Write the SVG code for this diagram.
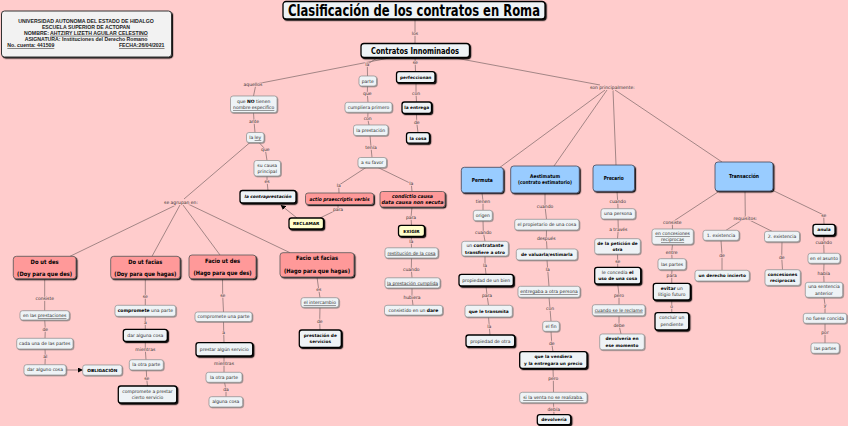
<svg xmlns="http://www.w3.org/2000/svg" width="848" height="426" viewBox="0 0 848 426">
<defs>
<filter id="ds" x="-20%" y="-40%" width="150%" height="200%"><feDropShadow dx="1.2" dy="1.2" stdDeviation="0" flood-color="#000" flood-opacity="0.9"/></filter>
<filter id="dsl" x="-20%" y="-40%" width="150%" height="200%"><feDropShadow dx="0.8" dy="0.8" stdDeviation="0" flood-color="#6e6e6e" flood-opacity="0.8"/></filter>
<marker id="ar" markerUnits="userSpaceOnUse" markerWidth="5" markerHeight="5" refX="4.5" refY="2.5" orient="auto"><path d="M0,0 L5,2.5 L0,5 z" fill="#000"/></marker>
<style>
.c{fill:none;stroke:#8b7373;stroke-width:.8}
.r{fill:#EEF3F6;stroke:#8e8e8e;stroke-width:.7;filter:url(#dsl)}
.k{fill:#EEF3F6;stroke:#000;stroke-width:1.3;filter:url(#ds)}
.p{fill:#FF9999;stroke:#555;stroke-width:.8;filter:url(#ds)}
.bl{fill:#99CCFF;stroke:#445;stroke-width:.8;filter:url(#ds)}
.y{fill:#FFFFCC;stroke:#000;stroke-width:1.3;filter:url(#ds)}
.hdr{fill:#F2F2F2;stroke:#333;stroke-width:1;filter:url(#ds)}
text{font-family:"DejaVu Sans",Verdana,sans-serif;text-anchor:middle}
.t{font-size:4.5px;fill:#2a2a2a}
.tb{font-size:4.3px;font-weight:bold;fill:#000}
.b{font-weight:bold;fill:#000}
.i{font-style:italic}
.h{font-size:6px;font-weight:bold;fill:#000}
.l{font-size:4.5px;fill:#333;paint-order:stroke;stroke:#FFCCCC;stroke-width:1.6px;stroke-linejoin:round}
.u{text-decoration:underline}
.hd{font-family:"Liberation Sans",Arial,sans-serif;font-size:5.2px;font-weight:bold;fill:#222}
</style>
</defs>
<rect width="848" height="426" fill="#FFCCCC"/>

<g id="connectors">
<polyline class="c" points="415,19 415,43.5"/>
<polyline class="c" points="389,58 256,84 253.5,96"/>
<polyline class="c" points="377,58 367.3,64.3 367.5,76"/>
<polyline class="c" points="415,57.5 415.5,71.7"/>
<polyline class="c" points="457,58.3 600,85"/>
<polyline class="c" points="253.5,112.5 254,121 255,132.5"/>
<polyline class="c" points="259,142.5 265.3,149.3 267,160.5"/>
<polyline class="c" points="267,176 267,181 268,190.5"/>
<polyline class="c" points="250,142.5 184,199"/>
<polyline class="c" points="176,205 70,256.3"/>
<polyline class="c" points="180,205 152,256.3"/>
<polyline class="c" points="183,205 220,255"/>
<polyline class="c" points="188,204 290,252.7"/>
<polyline class="c" points="367.5,86 367.3,93.7 368,102.3"/>
<polyline class="c" points="368,112.3 367.7,118.7 369,125"/>
<polyline class="c" points="370,135.5 371,147 372,157.5"/>
<polyline class="c" points="366,167.5 338.7,185.3 339,193"/>
<polyline class="c" points="378,167.5 411.3,183.7 412,191.5"/>
<polyline class="c" points="338,204.5 338,209.3 320,218"/>
<polyline class="c" points="297,218 281,205.2" marker-end="url(#ar)"/>
<polyline class="c" points="412,207 411,217 411.5,225.3"/>
<polyline class="c" points="411.5,236.3 411.3,241.3 411.5,248"/>
<polyline class="c" points="411.5,258 411.3,269.3 412,277.8"/>
<polyline class="c" points="412,288 412,297.3 413,305.3"/>
<polyline class="c" points="416,82.7 416,93 416.5,102"/>
<polyline class="c" points="416.5,113.3 416.7,122 418,132.7"/>
<polyline class="c" points="44.7,278.7 44.7,298.7 44.7,310.7"/>
<polyline class="c" points="44.7,320 45.3,329 45,338.3"/>
<polyline class="c" points="45,349 45.3,356.3 45,364.7"/>
<polyline class="c" points="66,370 82.5,370" marker-end="url(#ar)"/>
<polyline class="c" points="145.3,278.7 145.3,296.7 145.3,305.3"/>
<polyline class="c" points="145.3,316.3 145.3,322.7 145.3,329.3"/>
<polyline class="c" points="145.3,341.3 145.3,349.7 146,359.7"/>
<polyline class="c" points="146.3,370 146.7,378.7 147.5,386"/>
<polyline class="c" points="222.5,278.7 222.7,295 223.5,312"/>
<polyline class="c" points="223.5,321.5 223.7,332.3 224,342.7"/>
<polyline class="c" points="224,356 224,363.3 224,372.3"/>
<polyline class="c" points="224.5,382.3 226,389.7 226,396.7"/>
<polyline class="c" points="317,277 318.7,289.3 320,297.7"/>
<polyline class="c" points="320,307.3 319.7,321 320,330"/>
<polyline class="c" points="605,90 500,167.3"/>
<polyline class="c" points="607,90 554,166"/>
<polyline class="c" points="613,90 616,165"/>
<polyline class="c" points="615,90 722,162"/>
<polyline class="c" points="482,192.7 483,201 483,210.3"/>
<polyline class="c" points="483,220.7 483.3,232 485,241.3"/>
<polyline class="c" points="485,256 485,265 486,274.3"/>
<polyline class="c" points="486,286 487,295 488.5,305.3"/>
<polyline class="c" points="488.5,317 489.3,326.3 490,335"/>
<polyline class="c" points="545,193 545,206.3 546.5,219.3"/>
<polyline class="c" points="546.5,230 546.3,238 547,249"/>
<polyline class="c" points="547,260 547.7,269.7 549,286.3"/>
<polyline class="c" points="549,297.3 550,308.7 551,321.3"/>
<polyline class="c" points="551,331.3 551.7,343 553,351.7"/>
<polyline class="c" points="553,368.3 553.3,378 553.5,392.3"/>
<polyline class="c" points="553.5,402.7 553.7,409.3 554,414.7"/>
<polyline class="c" points="617,191.3 617.7,201.3 618,208.7"/>
<polyline class="c" points="618,219 618.3,229.3 617.5,238.7"/>
<polyline class="c" points="617.5,254 617.7,261 617.7,267.3"/>
<polyline class="c" points="617.7,284 619,295 619,304.7"/>
<polyline class="c" points="619,315.7 619,325 621,334"/>
<polyline class="c" points="718,192 672.3,222 672.5,229"/>
<polyline class="c" points="672.5,244.3 671.7,252 672,258.7"/>
<polyline class="c" points="672,269.7 671.7,275.3 671.8,283.3"/>
<polyline class="c" points="671.8,300 671.7,306.3 671.8,312.7"/>
<polyline class="c" points="745,191 745.3,218"/>
<polyline class="c" points="726,230.3 745.3,218 772,231.3"/>
<polyline class="c" points="721,240.3 722,255.3 722,270.3"/>
<polyline class="c" points="782,241.8 781.7,257 782.5,269.7"/>
<polyline class="c" points="774,191 823.7,215 824,224.3"/>
<polyline class="c" points="824,235.3 823.7,242.7 824,253.3"/>
<polyline class="c" points="824,263.3 823.7,273.7 824,282.3"/>
<polyline class="c" points="824,297.3 825,305 825,313.3"/>
<polyline class="c" points="825,323.3 825,332.3 825,343"/>
</g>

<g id="labels">
<text class="l" x="415" y="34.6">los</text>
<text class="l" x="253" y="85.9">aquellos</text>
<text class="l" x="367.3" y="65.9">la</text>
<text class="l" x="415.3" y="63.9">se</text>
<text class="l" x="612.3" y="88.9">son principalmente:</text>
<text class="l" x="254" y="122.9">ante</text>
<text class="l" x="265.3" y="150.9">que</text>
<text class="l" x="267" y="182.9">es</text>
<text class="l" x="181" y="203.6">se agrupan en:</text>
<text class="l" x="367.3" y="95.3">que</text>
<text class="l" x="367.7" y="120.3">con</text>
<text class="l" x="371" y="148.6">tenía</text>
<text class="l" x="338.7" y="186.9">la</text>
<text class="l" x="411.3" y="185.3">la</text>
<text class="l" x="338" y="210.9">para</text>
<text class="l" x="411" y="218.6">para</text>
<text class="l" x="411.3" y="242.9">la</text>
<text class="l" x="411.3" y="270.9">cuando</text>
<text class="l" x="412" y="298.9">hubiera</text>
<text class="l" x="416" y="94.6">con</text>
<text class="l" x="416.7" y="123.6">de</text>
<text class="l" x="44.7" y="300.3">consiste</text>
<text class="l" x="45.3" y="330.6">de</text>
<text class="l" x="45.3" y="357.9">al</text>
<text class="l" x="145.3" y="298.3">se</text>
<text class="l" x="145.3" y="324.3">a</text>
<text class="l" x="145.3" y="351.3">mientras</text>
<text class="l" x="146.7" y="380.3">se</text>
<text class="l" x="222.7" y="296.6">se</text>
<text class="l" x="223.7" y="333.9">a</text>
<text class="l" x="224" y="364.9">mientras</text>
<text class="l" x="226" y="391.3">da</text>
<text class="l" x="318.7" y="290.9">es</text>
<text class="l" x="319.7" y="322.6">de</text>
<text class="l" x="483" y="202.6">tienen</text>
<text class="l" x="483.3" y="233.6">cuando</text>
<text class="l" x="485" y="266.6">la</text>
<text class="l" x="487" y="296.6">para</text>
<text class="l" x="489.3" y="327.9">la</text>
<text class="l" x="545" y="207.9">cuando</text>
<text class="l" x="546.3" y="239.6">después</text>
<text class="l" x="547.7" y="271.3">la</text>
<text class="l" x="550" y="310.3">con</text>
<text class="l" x="551.7" y="344.6">de</text>
<text class="l" x="553.3" y="379.6">pero</text>
<text class="l" x="553.7" y="410.9">debía</text>
<text class="l" x="617.7" y="202.9">cuando</text>
<text class="l" x="618.3" y="230.9">a través</text>
<text class="l" x="617.7" y="262.6">se</text>
<text class="l" x="619" y="296.6">pero</text>
<text class="l" x="619" y="326.6">debe</text>
<text class="l" x="672.3" y="223.6">consiste</text>
<text class="l" x="671.7" y="253.6">entre</text>
<text class="l" x="671.7" y="276.9">para</text>
<text class="l" x="671.7" y="307.9">o</text>
<text class="l" x="745.3" y="219.6">requisitos:</text>
<text class="l" x="722" y="256.9">de</text>
<text class="l" x="781.7" y="258.6">de</text>
<text class="l" x="823.7" y="216.6">se</text>
<text class="l" x="823.7" y="244.3">cuando</text>
<text class="l" x="823.7" y="275.3">había</text>
<text class="l" x="825" y="306.6">y</text>
<text class="l" x="825" y="333.9">por</text>
</g>

<g id="n-header">
<rect class="hdr" x="1.5" y="11" width="170" height="46" rx="3"/>
<text class="hd" x="86" y="22.8">UNIVERSIDAD AUTONOMA DEL ESTADO DE HIDALGO</text>
<text class="hd" x="86" y="28.8">ESCUELA SUPERIOR DE ACTOPAN</text>
<text class="hd" x="86" y="34.8">NOMBRE: <tspan class="u">AHTZIRY LIZETH AGUILAR CELESTINO</tspan></text>
<text class="hd" x="86" y="40.8">ASIGNATURA: Instituciones del Derecho Romano</text>
<text class="hd u" x="7.3" y="47" style="text-anchor:start">No. cuenta: 441509</text>
<text class="hd u" x="164.5" y="47" style="text-anchor:end">FECHA:26/04/2021</text>
</g>

<g id="n-title"><rect class="k" x="283" y="1.5" width="262" height="17.5" rx="3"/><text class="b" x="414" y="15.6" style="font-size:15.5px" textLength="252" lengthAdjust="spacingAndGlyphs">Clasificación de los contratos en Roma</text></g>
<g id="n-contratos"><rect class="k" x="361" y="43.5" width="108.5" height="14" rx="3"/><text class="b" x="415" y="53.8" style="font-size:9.5px" textLength="88" lengthAdjust="spacingAndGlyphs">Contratos Innominados</text></g>

<g id="n-queno"><rect class="r" x="230.5" y="96" width="46.5" height="16.5" rx="2.5"/><text class="t" x="253.7" y="102.6">que <tspan class="b">NO</tspan> tienen</text><text class="t u" x="253.7" y="109.3">nombre específico</text></g>
<g id="n-ley"><rect class="r" x="246.5" y="132.5" width="17.5" height="10" rx="2.5"/><text class="t" x="255.2" y="139.2">la <tspan class="u">ley</tspan></text></g>
<g id="n-causa"><rect class="r" x="254" y="160.5" width="26.5" height="15.5" rx="2.5"/><text class="t" x="267.2" y="166.6">su causa</text><text class="t" x="267.2" y="172.6">principal</text></g>
<g id="n-contra"><rect class="k" x="240" y="190.5" width="56" height="12.5" rx="2.5"/><text class="tb i" x="268" y="198.4">la contraprestación</text></g>
<g id="n-reclamar"><rect class="y" x="289" y="218" width="34.5" height="11" rx="2.5"/><text class="tb" x="306.2" y="225.2">RECLAMAR</text></g>
<g id="n-actio"><rect class="p" x="305.5" y="193" width="68" height="11.5" rx="2.5"/><text class="h i" x="339.5" y="200.6" style="font-size:5px" textLength="60" lengthAdjust="spacingAndGlyphs">actio praescriptis verbis</text></g>
<g id="n-favor"><rect class="r" x="358" y="157.5" width="28.5" height="10" rx="2.5"/><text class="t" x="372.2" y="164.2">a su favor</text></g>
<g id="n-prest"><rect class="r" x="353.5" y="125" width="34.5" height="10.5" rx="2.5"/><text class="t" x="370.7" y="131.9">la prestación</text></g>
<g id="n-cumpl"><rect class="r" x="345" y="102.3" width="47" height="10" rx="2.5"/><text class="t" x="368.5" y="109">cumpliera primero</text></g>
<g id="n-parte"><rect class="r" x="359" y="76" width="17.5" height="10" rx="2.5"/><text class="t" x="367.7" y="82.6">parte</text></g>
<g id="n-condictio"><rect class="p" x="380" y="191.5" width="65" height="15.5" rx="2.5"/><text class="h i" x="412.5" y="198" style="font-size:5px" textLength="41" lengthAdjust="spacingAndGlyphs">condictio causa</text><text class="h i" x="412.5" y="204.3" style="font-size:5px" textLength="62" lengthAdjust="spacingAndGlyphs">data causa non secuta</text></g>
<g id="n-exigir"><rect class="y" x="398.5" y="225.3" width="26" height="11" rx="2.5"/><text class="tb" x="411.5" y="232.5">EXIGIR</text></g>
<g id="n-restit"><rect class="r" x="385" y="247.8" width="53" height="10.2" rx="2.5"/><text class="t u" x="411.5" y="254.5">restitución de la cosa</text></g>
<g id="n-cumplida"><rect class="r" x="385" y="277.8" width="55" height="10.2" rx="2.5"/><text class="t u" x="412.5" y="284.5">la prestación cumplida</text></g>
<g id="n-dare"><rect class="r" x="384.5" y="305.3" width="58" height="9.8" rx="2.5"/><text class="t" x="413.5" y="311.9">consistido en un <tspan class="b">dare</tspan></text></g>
<g id="n-perfecc"><rect class="k" x="396.5" y="71.7" width="38.5" height="11" rx="2.5"/><text class="tb" x="415.7" y="78.8">perfeccionan</text></g>
<g id="n-entrega"><rect class="k" x="402" y="102" width="29.5" height="11.3" rx="2.5"/><text class="tb" x="416.7" y="109.3">la entrega</text></g>
<g id="n-cosa"><rect class="k" x="406.5" y="132.7" width="23" height="10.5" rx="2.5"/><text class="tb" x="418" y="139.5">la cosa</text></g>

<g id="n-dud"><rect class="p" x="13.3" y="256.3" width="62.7" height="22.4" rx="3"/><text class="h" x="44.6" y="263.9" textLength="28" lengthAdjust="spacingAndGlyphs">Do ut des</text><text class="h" x="44.6" y="276.2" textLength="55" lengthAdjust="spacingAndGlyphs">(Doy para que des)</text></g>
<g id="n-duf"><rect class="p" x="110.7" y="256.3" width="69.3" height="22.4" rx="3"/><text class="h" x="145.3" y="263.9" textLength="34" lengthAdjust="spacingAndGlyphs">Do ut facias</text><text class="h" x="145.3" y="276.2" textLength="62" lengthAdjust="spacingAndGlyphs">(Doy para que hagas)</text></g>
<g id="n-fud"><rect class="p" x="189" y="255" width="67" height="23.7" rx="3"/><text class="h" x="222.5" y="262.5" textLength="35" lengthAdjust="spacingAndGlyphs">Facio ut des</text><text class="h" x="222.5" y="275.2" textLength="58" lengthAdjust="spacingAndGlyphs">(Hago para que des)</text></g>
<g id="n-fuf"><rect class="p" x="280" y="252.7" width="74" height="24.3" rx="3"/><text class="h" x="317" y="260.2" textLength="42" lengthAdjust="spacingAndGlyphs">Facio ut facias</text><text class="h" x="317" y="272.5" textLength="66" lengthAdjust="spacingAndGlyphs">(Hago para que hagas)</text></g>

<g id="n-enlas"><rect class="r" x="20" y="310.7" width="49.3" height="9.3" rx="2.5"/><text class="t" x="44.7" y="317">en las <tspan class="u">prestaciones</tspan></text></g>
<g id="n-cada"><rect class="r" x="16.7" y="338.3" width="56.3" height="10.7" rx="2.5"/><text class="t" x="44.8" y="345.2">cada una de las partes</text></g>
<g id="n-daralguno"><rect class="r" x="24" y="364.7" width="42" height="10.3" rx="2.5"/><text class="t" x="45" y="371.4">dar alguno cosa</text></g>
<g id="n-oblig"><rect class="r" x="82.7" y="365" width="39.3" height="10.3" rx="2.5"/><text class="tb" x="102.3" y="371.7">OBLIGACIÓN</text></g>
<g id="n-comp1"><rect class="r" x="115" y="305.3" width="60.7" height="11" rx="2.5"/><text class="t" x="145.3" y="312.3"><tspan class="b">compromete</tspan> una parte</text></g>
<g id="n-dar2"><rect class="k" x="123.3" y="329.3" width="44" height="12" rx="2.5"/><text class="t" x="145.3" y="336.9">dar alguna cosa</text></g>
<g id="n-otra1"><rect class="r" x="129.3" y="359.7" width="34" height="10.3" rx="2.5"/><text class="t" x="146.3" y="366.4">la otra parte</text></g>
<g id="n-comp2"><rect class="k" x="118.3" y="386" width="58.4" height="17" rx="2.5"/><text class="t" x="147.5" y="392.6">compromete a prestar</text><text class="t" x="147.5" y="398.9">cierto servicio</text></g>
<g id="n-comp3"><rect class="r" x="195" y="312" width="57" height="9.5" rx="2.5"/><text class="t" x="223.5" y="318.3">compromete una parte</text></g>
<g id="n-prestar"><rect class="k" x="196" y="342.7" width="56.7" height="13.3" rx="2.5"/><text class="t" x="224.3" y="350.9">prestar algún servicio</text></g>
<g id="n-otra2"><rect class="r" x="206" y="372.3" width="36" height="10" rx="2.5"/><text class="t" x="224" y="379">la otra parte</text></g>
<g id="n-alguna"><rect class="r" x="209" y="396.7" width="33.7" height="10.3" rx="2.5"/><text class="t" x="225.8" y="403.4">alguna cosa</text></g>
<g id="n-interc"><rect class="r" x="301" y="297.7" width="37.7" height="9.6" rx="2.5"/><text class="t u" x="319.8" y="304.1">el intercambio</text></g>
<g id="n-servic"><rect class="k" x="299.3" y="330" width="42" height="17.3" rx="2.5"/><text class="tb" x="320.3" y="337">prestación de</text><text class="tb" x="320.3" y="343.2">servicios</text></g>

<g id="n-permuta"><rect class="bl" x="461.3" y="167.3" width="42" height="25.4" rx="3"/><text class="h" x="482.3" y="181.9" style="font-size:5.5px" textLength="21" lengthAdjust="spacingAndGlyphs">Permuta</text></g>
<g id="n-aest"><rect class="bl" x="510.7" y="166" width="68.6" height="27" rx="3"/><text class="h" x="545" y="177.6" style="font-size:5px" textLength="30" lengthAdjust="spacingAndGlyphs">Aestimatum</text><text class="h" x="545" y="183.7" style="font-size:5px" textLength="54" lengthAdjust="spacingAndGlyphs">(contrato estimatorio)</text></g>
<g id="n-precario"><rect class="bl" x="593" y="165" width="41.5" height="26.3" rx="3"/><text class="h" x="613.7" y="180" style="font-size:5.5px" textLength="20" lengthAdjust="spacingAndGlyphs">Precario</text></g>
<g id="n-trans"><rect class="bl" x="715" y="162" width="58" height="29" rx="3"/><text class="h" x="744" y="178.3" style="font-size:5.5px" textLength="30" lengthAdjust="spacingAndGlyphs">Transacción</text></g>

<g id="n-origen"><rect class="r" x="473.3" y="210.3" width="19" height="10.4" rx="2.5"/><text class="t" x="482.8" y="217">origen</text></g>
<g id="n-contratante"><rect class="r" x="461.7" y="241.3" width="46.6" height="14.7" rx="2.5"/><text class="t" x="485" y="247.4">un <tspan class="b">contratante</tspan></text><text class="tb" x="485" y="253.8">transfiere a otro</text></g>
<g id="n-bien"><rect class="k" x="459" y="274.3" width="54.3" height="11.7" rx="2.5"/><text class="t" x="486.2" y="281.8">propiedad de un bien</text></g>
<g id="n-transmita"><rect class="r" x="465" y="305.3" width="47.3" height="11.7" rx="2.5"/><text class="tb" x="488.7" y="312.8">que le transmita</text></g>
<g id="n-otra"><rect class="k" x="466" y="335" width="48.7" height="11.7" rx="2.5"/><text class="t" x="490.3" y="342.5">propiedad de otra</text></g>
<g id="n-propiet"><rect class="r" x="514.7" y="219.3" width="64.3" height="10.7" rx="2.5"/><text class="t" x="546.8" y="226.2">el propietario de una cosa</text></g>
<g id="n-valuarla"><rect class="r" x="516.3" y="249" width="61" height="11" rx="2.5"/><text class="tb" x="546.8" y="256.1">de valuarla/estimarla</text></g>
<g id="n-entregaba"><rect class="r" x="518" y="286.3" width="62" height="11" rx="2.5"/><text class="t u" x="549" y="293.4">entregaba a otra persona</text></g>
<g id="n-elfin"><rect class="r" x="542.7" y="321.3" width="16.6" height="10" rx="2.5"/><text class="t" x="551" y="327.9">el fin</text></g>
<g id="n-vendiera"><rect class="k" x="519.7" y="351.7" width="67.3" height="16.6" rx="2.5"/><text class="tb" x="553.3" y="358.3">que la vendiera</text><text class="tb" x="553.3" y="364.6">y la entregara un precio</text></g>
<g id="n-siventa"><rect class="r" x="519.7" y="392.3" width="67.3" height="10.4" rx="2.5"/><text class="t u" x="553.3" y="399.1">si la venta no se realizaba.</text></g>
<g id="n-devolv"><rect class="k" x="537.3" y="414.7" width="33.4" height="10" rx="2.5"/><text class="tb" x="554" y="421.4">devolvería</text></g>
<g id="n-persona"><rect class="r" x="601" y="208.7" width="34.3" height="10.3" rx="2.5"/><text class="t" x="618.1" y="215.4">una persona</text></g>
<g id="n-peticion"><rect class="r" x="594.7" y="238.7" width="45.6" height="15.3" rx="2.5"/><text class="tb" x="617.5" y="244.9">de la petición de</text><text class="tb" x="617.5" y="251.2">otra</text></g>
<g id="n-concedia"><rect class="k" x="594.7" y="267.3" width="46" height="16.7" rx="2.5"/><text class="t" x="617.7" y="273.9">le concedía <tspan class="b">el</tspan></text><text class="tb" x="617.7" y="280.3">uso de una cosa</text></g>
<g id="n-reclame"><rect class="r" x="592.3" y="304.7" width="52.7" height="11" rx="2.5"/><text class="t u" x="618.7" y="311.7">cuando se le reclame</text></g>
<g id="n-devmom"><rect class="r" x="599.7" y="334" width="44.6" height="15.7" rx="2.5"/><text class="tb" x="622" y="340.4">devolvería en</text><text class="tb" x="622" y="346.7">ese momento</text></g>
<g id="n-encon"><rect class="r" x="652" y="229" width="41.3" height="15.3" rx="2.5"/><text class="t u" x="672.6" y="235.2">en concesiones</text><text class="t u" x="672.6" y="241.4">reciprocas</text></g>
<g id="n-partes1"><rect class="r" x="658" y="258.7" width="28" height="11" rx="2.5"/><text class="t" x="672" y="265.7">las partes</text></g>
<g id="n-evitar"><rect class="k" x="653.3" y="283.3" width="37" height="16.7" rx="2.5"/><text class="t" x="671.8" y="289.9"><tspan class="b">evitar</tspan> un</text><text class="t" x="671.8" y="296.2">litigio futuro</text></g>
<g id="n-concluir"><rect class="k" x="655" y="312.7" width="33.7" height="17.3" rx="2.5"/><text class="t" x="671.8" y="319.4">concluir un</text><text class="t" x="671.8" y="325.7">pendiente</text></g>
<g id="n-ex1"><rect class="r" x="703" y="230.3" width="36" height="10" rx="2.5"/><text class="t" x="721" y="237">1. existencia</text></g>
<g id="n-derecho"><rect class="r" x="695" y="270.3" width="54.3" height="10.7" rx="2.5"/><text class="tb" x="722.2" y="277.2">un derecho incierto</text></g>
<g id="n-ex2"><rect class="r" x="764.5" y="231.3" width="35" height="10.5" rx="2.5"/><text class="t" x="782" y="238.1">2. existencia</text></g>
<g id="n-concrec"><rect class="r" x="765" y="269.7" width="35.3" height="15.7" rx="2.5"/><text class="tb" x="782.6" y="276">concesiones</text><text class="tb" x="782.6" y="282.3">reciprocas</text></g>
<g id="n-anula"><rect class="k" x="813" y="224.3" width="22" height="11" rx="2.5"/><text class="tb" x="824" y="231.4">anula</text></g>
<g id="n-asunto"><rect class="r" x="808" y="253.3" width="32" height="10" rx="2.5"/><text class="t" x="824" y="260">en el asunto</text></g>
<g id="n-sentencia"><rect class="r" x="805.3" y="282.3" width="37.4" height="15" rx="2.5"/><text class="t" x="824" y="288.4">una sentencia</text><text class="t" x="824" y="294.6">anterior</text></g>
<g id="n-nofuese"><rect class="r" x="803.3" y="313.3" width="43.4" height="10" rx="2.5"/><text class="t" x="825" y="320">no fuese concida</text></g>
<g id="n-partes2"><rect class="r" x="811" y="343" width="28.3" height="10.3" rx="2.5"/><text class="t" x="825.1" y="349.7">las partes</text></g>
</svg>
